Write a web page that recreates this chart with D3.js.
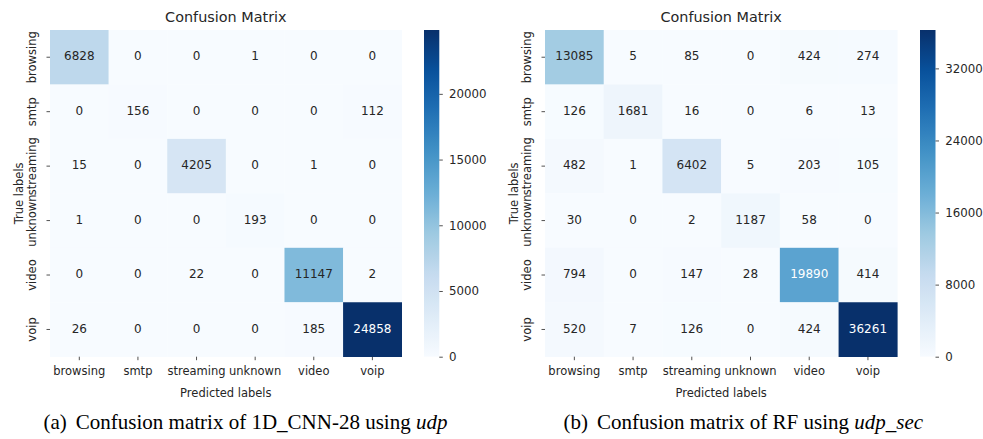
<!DOCTYPE html>
<html>
<head>
<meta charset="utf-8">
<script src="https://cdn.jsdelivr.net/npm/d3@7"></script>
<style>
  body { margin: 0; background: #fff; }
  text { font-family: "DejaVu Sans", sans-serif; fill: #262626; }
  .caption { font-family: "Liberation Serif", "Times New Roman", serif; fill: #000; }
</style>
</head>
<body>
<script>
var width = 983;
var height = 439;

// class names, shared by both matrices
var labels = ["browsing", "smtp", "streaming", "unknown", "video", "voip"];

// rows = true labels, columns = predicted labels
var cnnMatrix = [
  [6828, 0, 0, 1, 0, 0],
  [0, 156, 0, 0, 0, 112],
  [15, 0, 4205, 0, 1, 0],
  [1, 0, 0, 193, 0, 0],
  [0, 0, 22, 0, 11147, 2],
  [26, 0, 0, 0, 185, 24858]
];
var rfMatrix = [
  [13085, 5, 85, 0, 424, 274],
  [126, 1681, 16, 0, 6, 13],
  [482, 1, 6402, 5, 203, 105],
  [30, 0, 2, 1187, 58, 0],
  [794, 0, 147, 28, 19890, 414],
  [520, 7, 126, 0, 424, 36261]
];
var cnnTicks = [0, 5000, 10000, 15000, 20000];
var rfTicks = [0, 8000, 16000, 24000, 32000];

var tickFont = "11.5px";

var svg = d3.select("body").append("svg")
  .attr("width", width).attr("height", height)
  .style("background-color", "#fff");

// matplotlib "Blues": straight linear segments between the 9 brewer colours
var blues = d3.schemeBlues[9];

function luminance(c) {
  var rgb = d3.rgb(c);
  var lin = [rgb.r, rgb.g, rgb.b].map(function (v) {
    v = v / 255;
    return v <= 0.03928 ? v / 12.92 : Math.pow((v + 0.055) / 1.055, 2.4);
  });
  return 0.2126 * lin[0] + 0.7152 * lin[1] + 0.0722 * lin[2];
}

function drawMatrix(id, matrix, ticks, box, cbar) {
  var g = svg.append("g");
  var vmax = d3.max(matrix, function (r) { return d3.max(r); });
  var color = d3.scaleLinear()
    .domain(blues.map(function (d, i) { return vmax * i / (blues.length - 1); }))
    .range(blues)
    .interpolate(d3.interpolateRgb);

  var x = d3.scaleBand().domain(labels).range([box.x0, box.x1]);
  var y = d3.scaleBand().domain(labels).range([box.y0, box.y1]);

  var cells = [];
  matrix.forEach(function (row, i) {
    row.forEach(function (v, j) {
      cells.push({ t: labels[i], p: labels[j], v: v });
    });
  });

  g.selectAll("rect.cell").data(cells).enter().append("rect")
    .attr("class", "cell")
    .attr("x", function (d) { return x(d.p); })
    .attr("y", function (d) { return y(d.t); })
    .attr("width", x.bandwidth() + 0.3)
    .attr("height", y.bandwidth() + 0.3)
    .attr("fill", function (d) { return color(d.v); });

  g.selectAll("text.annot").data(cells).enter().append("text")
    .attr("class", "annot")
    .attr("x", function (d) { return x(d.p) + x.bandwidth() / 2; })
    .attr("y", function (d) { return y(d.t) + y.bandwidth() / 2 + 3.2; })
    .attr("text-anchor", "middle")
    .style("font-size", "12px")
    .style("fill", function (d) { return luminance(color(d.v)) > 0.408 ? "#262626" : "#ffffff"; })
    .text(function (d) { return d.v; });

  // x axis
  var xa = g.append("g")
    .attr("transform", "translate(0," + box.y1 + ")")
    .call(d3.axisBottom(x).tickSize(3.5));
  xa.select(".domain").remove();
  xa.selectAll("line").attr("stroke", "#262626").attr("stroke-width", 0.8);
  xa.selectAll("text")
    .attr("y", 18.3).attr("dy", null)
    .style("font-size", tickFont).style("font-family", "DejaVu Sans").attr("fill", "#262626");

  // y axis, labels turned upright
  var ya = g.append("g")
    .attr("transform", "translate(" + box.x0 + ",0)")
    .call(d3.axisLeft(y).tickSize(3.5));
  ya.select(".domain").remove();
  ya.selectAll("line").attr("stroke", "#262626").attr("stroke-width", 0.8);
  ya.selectAll("text")
    .attr("x", null).attr("dy", null)
    .attr("text-anchor", "middle")
    .attr("transform", "translate(-14,0) rotate(-90)")
    .style("font-size", tickFont).style("font-family", "DejaVu Sans").attr("fill", "#262626");

  var cx = (box.x0 + box.x1) / 2;
  g.append("text")
    .attr("x", cx).attr("y", 22)
    .attr("text-anchor", "middle")
    .style("font-size", "14.4px")
    .text("Confusion Matrix");

  g.append("text")
    .attr("x", cx).attr("y", 396.5)
    .attr("text-anchor", "middle")
    .style("font-size", tickFont)
    .text("Predicted labels");

  g.append("text")
    .attr("transform", "translate(" + (box.x0 - 27) + "," + ((box.y0 + box.y1) / 2) + ") rotate(-90)")
    .attr("text-anchor", "middle")
    .style("font-size", tickFont)
    .text("True labels");

  // colour bar
  var grad = svg.append("defs").append("linearGradient")
    .attr("id", id)
    .attr("x1", 0).attr("y1", 1).attr("x2", 0).attr("y2", 0);
  d3.range(0, 1.0001, 0.02).forEach(function (t) {
    grad.append("stop").attr("offset", t).attr("stop-color", color(t * vmax));
  });
  g.append("rect")
    .attr("x", cbar.x0).attr("y", box.y0)
    .attr("width", cbar.x1 - cbar.x0).attr("height", box.y1 - box.y0)
    .attr("fill", "url(#" + id + ")");

  var cy = d3.scaleLinear().domain([0, vmax]).range([box.y1, box.y0]);
  var ca = g.append("g")
    .attr("transform", "translate(" + cbar.x1 + ",0)")
    .call(d3.axisRight(cy).tickValues(ticks).tickSize(3.5).tickPadding(6.2).tickFormat(d3.format("d")));
  ca.select(".domain").remove();
  ca.selectAll("line").attr("stroke", "#262626").attr("stroke-width", 0.8);
  ca.selectAll("text")
    .style("font-size", "11.8px").style("font-family", "DejaVu Sans").attr("fill", "#262626");
}

drawMatrix("cbA", cnnMatrix, cnnTicks, { x0: 50, x1: 401.7, y0: 30, y1: 356.7 }, { x0: 424, x1: 439.3 });
drawMatrix("cbB", rfMatrix, rfTicks, { x0: 545, x1: 897.3, y0: 30, y1: 356.7 }, { x0: 920, x1: 935.5 });

// sub-figure captions
var capA = svg.append("text").attr("class", "caption")
  .attr("x", 43.5).attr("y", 429).style("font-size", "21px");
capA.append("tspan").text("(a)");
capA.append("tspan").attr("dx", 9).text("Confusion matrix of 1D_CNN-28 using ");
capA.append("tspan").style("font-style", "italic").text("udp");

var capB = svg.append("text").attr("class", "caption")
  .attr("x", 563.5).attr("y", 429).style("font-size", "21px");
capB.append("tspan").text("(b)");
capB.append("tspan").attr("dx", 9).text("Confusion matrix of RF using ");
capB.append("tspan").style("font-style", "italic").text("udp_sec");
</script>
</body>
</html>
